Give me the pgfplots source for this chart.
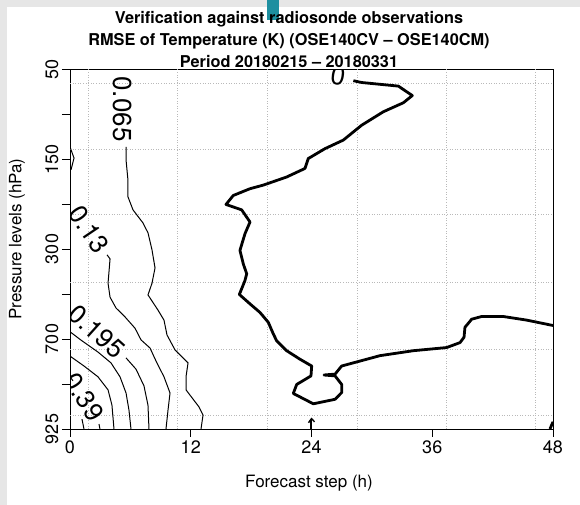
\documentclass[border=0pt]{standalone}
\usepackage{pgfplots}
\pgfplotsset{compat=1.18}
\usepackage{fontspec}
\setmainfont{TeX Gyre Heros}
\newcommand\fs{\fontsize{18bp}{21bp}\selectfont}
\newcommand\fx{\fontsize{17bp}{20bp}\selectfont}
\newcommand\ft{\fontsize{16.3bp}{20bp}\selectfont}
\newcommand\fl{\fontsize{26bp}{30bp}\selectfont}
\definecolor{bggrey}{HTML}{E6E6E6}
\definecolor{teal1}{HTML}{1E8FA0}
\begin{document}
\begin{tikzpicture}
\path[use as bounding box] (0,0) rectangle (580bp,505bp);
\fill[bggrey] (0,0) rectangle (7bp,505bp);
\fill[bggrey] (0,498bp) rectangle (580bp,505bp);
\fill[teal1] (267bp,485bp) rectangle (279bp,505bp);
\begin{axis}[
  at={(70bp,76bp)}, anchor=south west,
  scale only axis, width=483bp, height=360bp,
  xmin=0, xmax=48, ymin=0, ymax=8,
  xtick={0,12,24,36,48}, xticklabels={0,12,24,36,48},
  ytick={0,2,4,6,8}, yticklabels={925,700,300,150,50},
  minor ytick={1,3,5,7},
  tick align=outside, tick pos=left,
  major tick length=8bp, minor tick length=8bp,
  tick style={black, line width=0.9bp},
  axis line style={line width=0.9bp},
  yticklabel style={rotate=90, anchor=south, font=\fs},
  xticklabel style={font=\fs},
  extra x ticks={1.79,10.63,19.58,28.52,37.37,46.21},
  extra x tick labels={},
  extra x tick style={major tick length=0pt, grid=major,
     major grid style={gray!55, dash pattern=on 0.8bp off 1.8bp, line width=0.7bp}},
  extra y ticks={0.31,1.78,3.27,4.76,6.22,7.69},
  extra y tick labels={},
  extra y tick style={major tick length=0pt, grid=major,
     major grid style={gray!55, dash pattern=on 0.8bp off 1.8bp, line width=0.7bp}},
]
% contour 0.065
\addplot[black, line width=1bp] coordinates {
(5.57,6.27)(5.57,5.98)(5.76,5.53)(5.76,5.16)(6.26,4.87)(7.25,4.58)(7.75,4.36)
(8.15,3.98)(8.45,3.58)(8.15,3.24)(7.75,2.98)(8.75,2.64)(9.34,2.42)(9.64,2.09)
(10.43,1.76)(11.73,1.47)(11.53,1.16)(11.53,0.87)(12.82,0.49)(13.22,0.31)(13.02,0.00)};
% contour 0.13
\addplot[black, line width=1bp] coordinates {
(3.68,3.87)(3.98,3.78)(3.78,3.24)(3.98,2.93)(4.57,2.69)(5.47,2.49)(6.46,2.24)
(7.06,1.98)(7.95,1.80)(8.55,1.51)(9.34,1.16)(9.94,0.80)(9.74,0.42)(9.54,0.00)};
\addplot[black, line width=1bp] coordinates {(0,6.27)(0.40,6.02)(0.10,5.76)};
% contour 0.195
\addplot[black, line width=1bp] coordinates {
(5.57,1.58)(6.56,1.33)(7.35,0.96)(7.75,0.53)(7.85,0.00)};
% contour 0.26
\addplot[black, line width=1bp] coordinates {
(0,2.16)(1.19,1.96)(2.78,1.71)(4.07,1.47)(4.97,1.16)(5.57,0.80)(5.86,0.42)(6.06,0.00)};
% contour 0.325
\addplot[black, line width=1bp] coordinates {
(0,1.62)(1.39,1.40)(2.78,1.16)(3.78,0.87)(4.17,0.53)(4.37,0.00)};
% contour 0.39 (visible pieces)
\addplot[black, line width=1bp] coordinates {(1.19,0.22)(1.39,0.00)};
\addplot[black, line width=1bp] coordinates {(0,1.16)(0.30,1.07)};
\addplot[black, line width=1bp] coordinates {(2.88,0.11)(2.98,0.00)};
% contour 0 (thick)
\addplot[black, line width=2.8bp, line join=round] coordinates {
(28.16,7.74)(28.98,7.70)(32.63,7.62)(34.02,7.41)(33.13,7.25)(31.14,7.05)(28.98,6.75)
(27.16,6.42)(25.34,6.23)(23.68,6.01)(23.35,5.79)(21.53,5.60)(19.21,5.42)(17.89,5.34)
(16.23,5.19)(15.50,4.99)(17.06,4.87)(17.89,4.60)(17.39,4.34)(16.89,3.97)(17.22,3.67)
(17.56,3.45)(17.39,3.30)(16.83,2.99)(17.89,2.78)(18.88,2.59)(19.71,2.37)(20.21,2.11)
(20.54,1.96)(21.53,1.74)(22.86,1.55)(24.02,1.40)(23.95,1.18)(22.53,0.99)(22.19,0.79)
(24.18,0.56)(26.34,0.66)(27.00,0.81)(27.00,0.99)(26.34,1.18)(25.24,1.20)(26.34,1.22)
(27.00,1.40)(30.81,1.63)(34.12,1.74)(37.43,1.81)(38.76,1.92)(39.16,2.04)(39.25,2.26)
(39.92,2.44)(40.91,2.50)(43.06,2.50)(45.38,2.42)(48.00,2.30)};
\addplot[black, line width=2.8bp] coordinates {(47.70,0)(48,0.16)};
\addplot[black, line width=2bp] coordinates {(24,0)(24,0.21)};
\addplot[black, line width=1.4bp] coordinates {(23.7,0.14)(24,0.23)(24.3,0.16)};
% contour labels
\node[rotate=-90, font=\fl] at (axis cs:5.17,7.11) {0.065};
\node[rotate=-56, font=\fl] at (axis cs:1.89,4.44) {0.13};
\node[rotate=-42, font=\fl] at (axis cs:2.68,2.16) {0.195};
\node[rotate=-57, font=\fl] at (axis cs:1.39,0.71) {0.39};
\node[rotate=-10, font=\fl] at (axis cs:26.63,7.85) {0};
\end{axis}
\node[font=\ft\bfseries, anchor=base] at (289bp,481bp) {Verification against radiosonde observations};
\node[font=\ft\bfseries, anchor=base] at (289bp,459bp) {RMSE of Temperature (K) (OSE140CV -- OSE140CM)};
\node[font=\ft\bfseries, anchor=base] at (289bp,437.5bp) {Period 20180215 -- 20180331};
\node[font=\fx, anchor=base] at (309bp,18bp) {Forecast step (h)};
\node[font=\fx, rotate=90] at (17bp,266bp) {Pressure levels (hPa)};
\end{tikzpicture}
\end{document}
